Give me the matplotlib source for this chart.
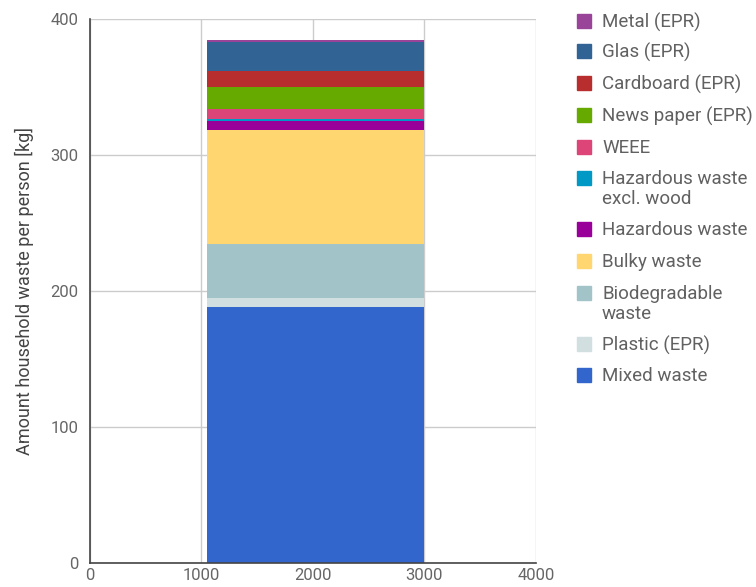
import matplotlib.pyplot as plt
from matplotlib.patches import Rectangle

plt.rcParams["font.family"] = ["Roboto", "DejaVu Sans"]

# stacked from bottom to top
categories = ["Mixed waste", "Plastic (EPR)", "Biodegradable\nwaste", "Bulky waste",
              "Hazardous waste", "Hazardous waste\nexcl. wood", "WEEE",
              "News paper (EPR)", "Cardboard (EPR)", "Glas (EPR)", "Metal (EPR)"]
values = [188.0, 6.6, 40.0, 83.8, 6.1, 2.0, 7.1, 15.9, 12.3, 20.8, 1.7]
colors = ["#3366cc", "#d1dfe1", "#a2c4c9", "#ffd66f", "#990099", "#0099c6",
          "#dd4477", "#66aa00", "#b82e2e", "#316395", "#994499"]
x_start = 1050
x_end = 3000

fig = plt.figure(figsize=(7.56, 5.87), dpi=100)
ax = fig.add_axes([0.119, 0.041, 0.590, 0.927])

bottom = 0
for cat, val, col in zip(categories, values, colors):
    ax.bar(x_start, val, width=x_end - x_start, bottom=bottom, align="edge",
           color=col, edgecolor="none", zorder=2)
    bottom += val

ax.set_xlim(0, 4000)
ax.set_ylim(0, 400)
ax.set_xticks([0, 1000, 2000, 3000, 4000])
ax.set_yticks([0, 100, 200, 300, 400])
ax.grid(True, color="#cccccc", linewidth=1, zorder=0)
for s in ["top", "right"]:
    ax.spines[s].set_visible(False)
for s in ["left", "bottom"]:
    ax.spines[s].set_color("#444444")
    ax.spines[s].set_linewidth(1.2)
    ax.spines[s].set_zorder(3)
ax.tick_params(length=0, labelsize=12, colors="#666666", pad=8)
ax.tick_params(axis="x", pad=4)
ax.set_ylabel("Amount household waste per person [kg]", fontsize=13,
              color="#444444", labelpad=12)

# legend drawn by hand so two-line labels line up like the original
ypos = [375, 344, 293, 261, 229, 178, 147, 115, 83, 51, 21]
for cat, col, yp in zip(categories, colors, ypos):
    fy = 1 - yp / 587
    fig.add_artist(Rectangle((577 / 756, fy - 7 / 587), 14 / 756, 14 / 587,
                             transform=fig.transFigure, color=col))
    fig.text(602 / 756, fy + 8 / 587, cat, fontsize=13.5, color="#616161",
             va="top", ha="left", linespacing=1.12)

fig.savefig("out.png", dpi=100)
